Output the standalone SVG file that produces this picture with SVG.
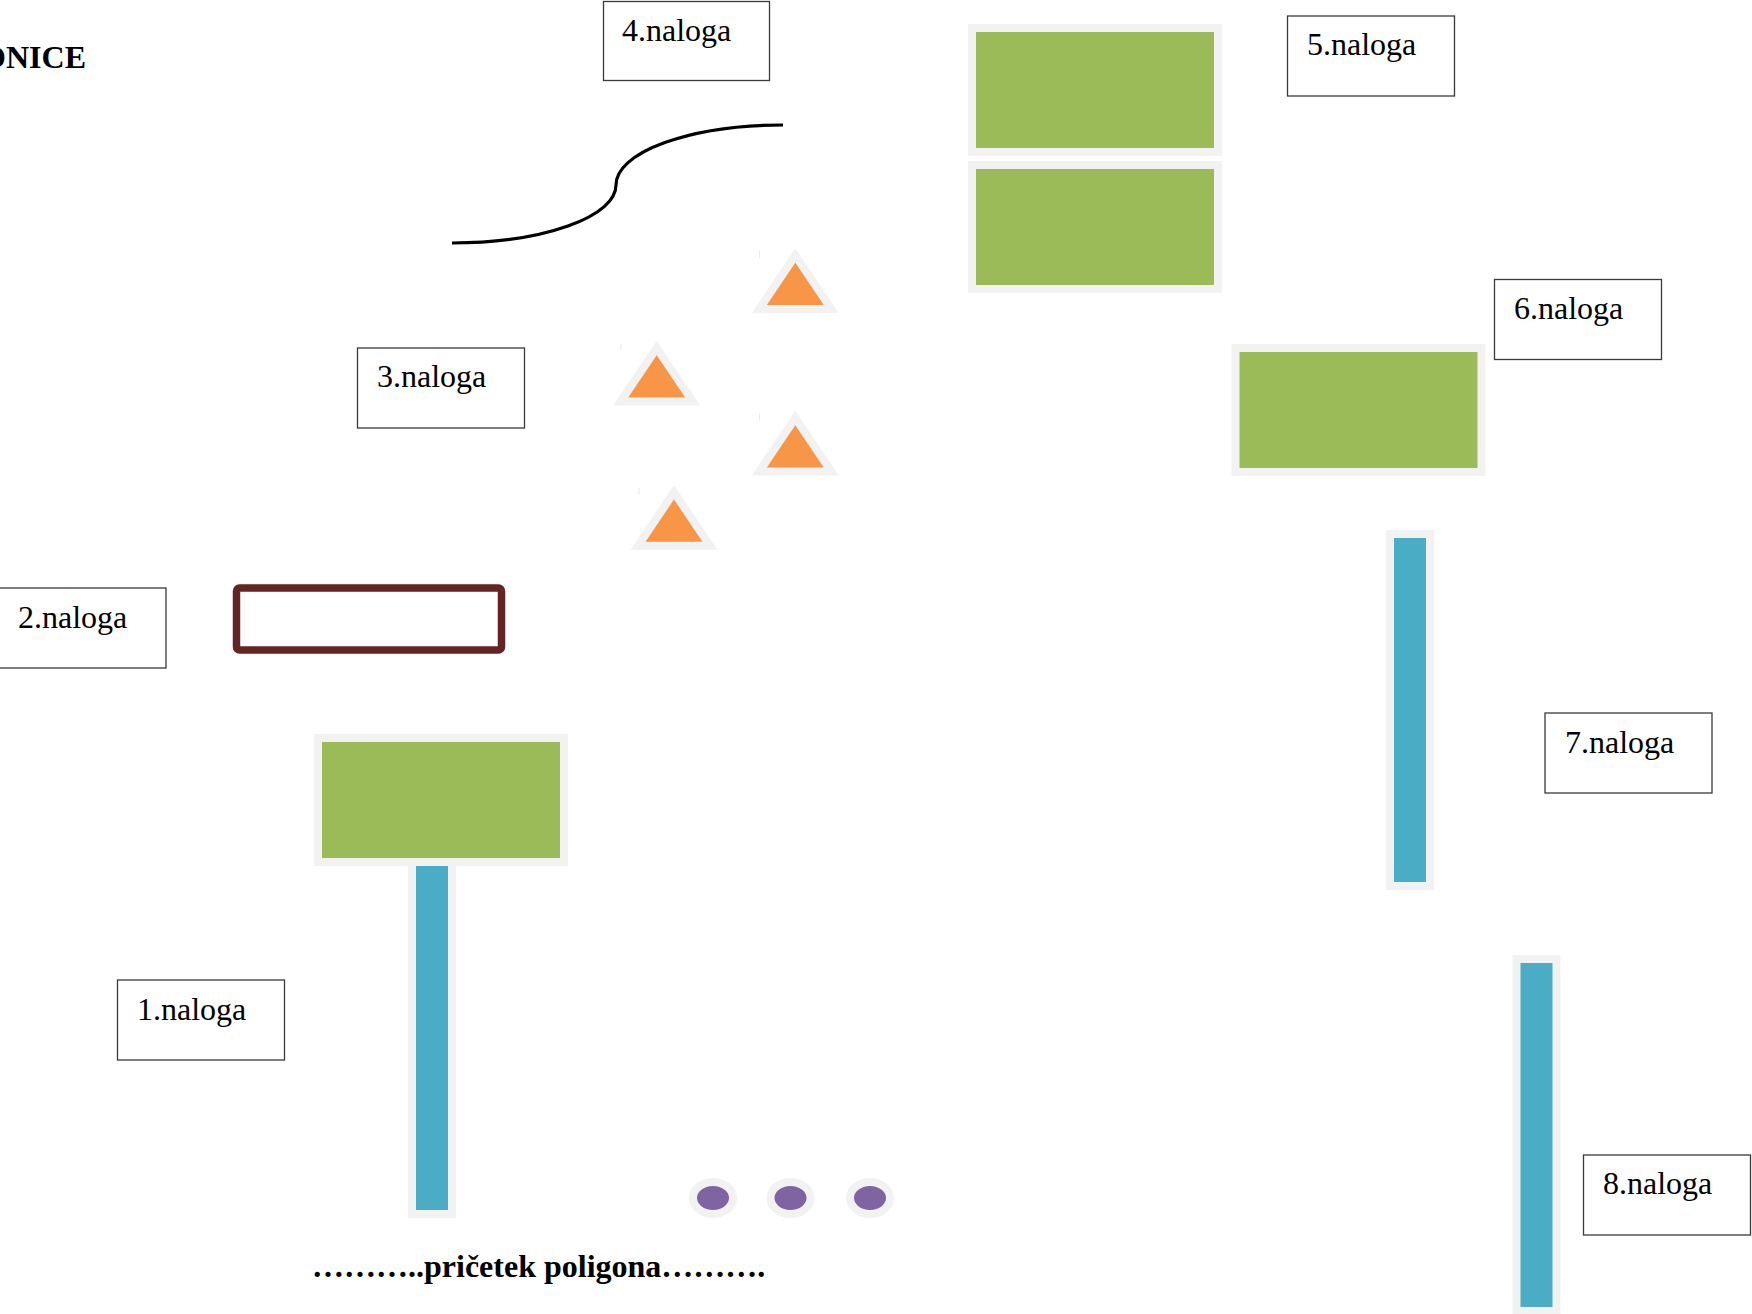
<svg xmlns="http://www.w3.org/2000/svg" width="1752" height="1314" viewBox="0 0 1752 1314">
<style>
  .lbl rect { fill: #ffffff; stroke: #3a3a3a; stroke-width: 1.3; }
  .lbl text { font-family: "Liberation Serif", "Times New Roman", serif; font-size: 32px; fill: #000; }
  .green { fill: #9BBB59; stroke: #F2F2F2; stroke-width: 8; }
  .blue { fill: #4BACC6; stroke: #F2F2F2; stroke-width: 8; }
  .tri { fill: #F79646; stroke: #F2F2F2; stroke-width: 8; stroke-linejoin: miter; }
  .dot { fill: #8064A2; stroke: #F2F2F2; stroke-width: 8; }
  .tick { fill: #ececec; }
  .title { font-family: "Liberation Serif", "Times New Roman", serif; font-size: 32px; font-weight: bold; fill: #000; }
</style>
<defs>
  <polygon id="triShape" points="0,0 -36,53.5 36,53.5"/>
</defs>
<rect width="1752" height="1314" fill="#ffffff"/>

<text class="title" x="86" y="68" text-anchor="end">ONICE</text>

<g id="connectors">
  <path d="M 452 243 A 164 58 0 0 0 616 185 A 167 60 0 0 1 783 125" fill="none" stroke="#000" stroke-width="3.2"/>
</g>

<g id="green-5a"><rect class="green" x="972" y="28" width="246" height="124"/></g>
<g id="green-5b"><rect class="green" x="972" y="165" width="246" height="124"/></g>
<g id="green-6"><rect class="green" x="1235.5" y="348" width="246" height="124"/></g>
<g id="green-1"><rect class="green" x="318" y="738" width="246" height="124"/></g>

<g id="blue-1"><rect class="blue" x="412" y="862" width="40" height="352"/></g>
<g id="blue-7"><rect class="blue" x="1390" y="534" width="40" height="352"/></g>
<g id="blue-8"><rect class="blue" x="1516.5" y="959" width="40" height="352"/></g>

<g id="frame-2"><rect x="236.5" y="588" width="265" height="62" rx="3" fill="none" stroke="#632523" stroke-width="7.5"/></g>

<g id="tri-1"><rect class="tick" x="759" y="251" width="1" height="7"/><use href="#triShape" class="tri" transform="translate(795.3,255.5)"/></g>
<g id="tri-2"><rect class="tick" x="620.5" y="343.5" width="1" height="7"/><use href="#triShape" class="tri" transform="translate(656.7,348)"/></g>
<g id="tri-3"><rect class="tick" x="759" y="413.5" width="1" height="7"/><use href="#triShape" class="tri" transform="translate(795.3,418)"/></g>
<g id="tri-4"><rect class="tick" x="638.5" y="488" width="1" height="7"/><use href="#triShape" class="tri" transform="translate(674,492.3)"/></g>

<g id="dot-1"><ellipse class="dot" cx="713" cy="1198" rx="20" ry="16"/></g>
<g id="dot-2"><ellipse class="dot" cx="790.5" cy="1198" rx="20" ry="16"/></g>
<g id="dot-3"><ellipse class="dot" cx="870" cy="1198" rx="20" ry="16"/></g>

<g id="label-1" class="lbl"><rect x="117.5" y="980" width="167" height="80"/><text x="137" y="1020">1.naloga</text></g>
<g id="label-2" class="lbl"><rect x="-1" y="588" width="167" height="80"/><text x="18" y="628">2.naloga</text></g>
<g id="label-3" class="lbl"><rect x="357.5" y="348" width="167" height="80"/><text x="377" y="387">3.naloga</text></g>
<g id="label-4" class="lbl"><rect x="603.5" y="1.5" width="166" height="79"/><text x="622" y="41">4.naloga</text></g>
<g id="label-5" class="lbl"><rect x="1287.5" y="16" width="167" height="80"/><text x="1307" y="55">5.naloga</text></g>
<g id="label-6" class="lbl"><rect x="1494.5" y="279.5" width="167" height="80"/><text x="1514" y="319">6.naloga</text></g>
<g id="label-7" class="lbl"><rect x="1545" y="713" width="167" height="80"/><text x="1565" y="753">7.naloga</text></g>
<g id="label-8" class="lbl"><rect x="1583.5" y="1155" width="167" height="80"/><text x="1603" y="1194">8.naloga</text></g>

<text class="title" x="312" y="1277">&#8230;&#8230;&#8230;..pričetek poligona&#8230;&#8230;&#8230;.</text>
</svg>
